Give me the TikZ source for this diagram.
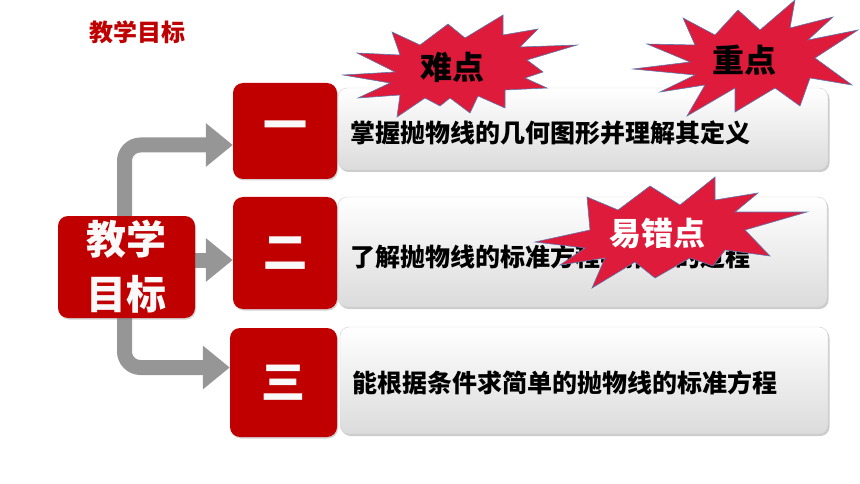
\documentclass[tikz,border=0pt]{standalone}
\usepackage{fontspec}
\setmainfont{Noto Sans CJK SC}
\usetikzlibrary{arrows.meta,shadows,backgrounds}
\definecolor{deepred}{HTML}{C00000}
\definecolor{burst}{HTML}{DE1B3B}
\definecolor{burstline}{HTML}{5A78B0}
\definecolor{arrowgray}{HTML}{969696}

\begin{document}
\begin{tikzpicture}[x=1pt,y=-1pt,
  redbox/.style={fill=deepred, rounded corners=10pt, inner sep=0pt,
    drop shadow={opacity=0.35,shadow xshift=1pt,shadow yshift=-1.5pt},
    text=white!95!gray, font=\bfseries\fontsize{44}{44}\selectfont},
  greybox/.style={draw=gray!35, top color=white, bottom color=gray!28, rounded corners=9pt,
    drop shadow={opacity=0.4,shadow xshift=1.5pt,shadow yshift=-2pt}},
  goaltext/.style={anchor=west, inner sep=0pt, font=\bfseries\fontsize{25}{25}\selectfont},
  garrow/.style={arrowgray, line width=15pt, rounded corners=16pt,
    -{Triangle[length=27pt,width=42pt]}},
  burstfill/.style={fill=burst, draw=burstline, line width=0.6pt, line join=miter},
  burstlabel/.style={font=\bfseries\fontsize{32}{32}\selectfont}]
  \useasboundingbox (0,0) rectangle (860,484);

  \node[text=deepred, font=\bfseries\fontsize{24}{24}\selectfont] (title) at (137,32) {教学目标};

  \node[greybox, minimum width=490pt, minimum height=82pt] (g1) at (583,129) {};
  \node[greybox, minimum width=489pt, minimum height=110pt] (g2) at (582.5,252) {};
  \node[greybox, minimum width=488pt, minimum height=107pt] (g3) at (584,380.5) {};

  \node[redbox, minimum width=104pt, minimum height=96pt] (r1) at (285,131) {一};
  \node[redbox, minimum width=104pt, minimum height=112pt] (r2) at (285,253) {二};
  \node[redbox, minimum width=107pt, minimum height=109pt] (r3) at (283.5,382.5) {三};

  \node[redbox, minimum width=137pt, minimum height=102pt, align=center,
    font=\bfseries\fontsize{40}{55}\selectfont] (goal) at (126.5,267) {教学\\目标};

  \begin{scope}[on background layer]
    \coordinate (a2) at ([yshift=-7pt]r2.west);
    \draw[garrow] ([xshift=-2pt]goal.center) |- ([yshift=-14pt]r1.west);
    \draw[garrow] (goal.center |- a2) -- (a2);
    \draw[garrow] ([xshift=-2pt]goal.center) |- ([yshift=15pt]r3.west);
  \end{scope}

  \node[goaltext] (t1) at ([xshift=12pt,yshift=-4pt]g1.west) {掌握抛物线的几何图形并理解其定义};
  \node[goaltext] (t2) at ([xshift=12pt,yshift=-5pt]g2.west) {了解抛物线的标准方程与推导的过程};
  \node[goaltext] (t3) at ([xshift=12pt,yshift=-2.5pt]g3.west) {能根据条件求简单的抛物线的标准方程};

  \draw[burstfill] (343,75) -- (395,72) -- (357,53) -- (400,55) -- (392,32) -- (420,45)
    -- (448,24) -- (465,38) -- (503,15) -- (503,35) -- (538,29) -- (520,47) -- (577,45)
    -- (527,60) -- (543,72) -- (525,78) -- (547,88) -- (505,90) -- (505,108) -- (478,96)
    -- (470,113) -- (450,98) -- (440,106) -- (425,98) -- (397,117) -- (400,95) -- (358,98)
    -- (390,83) -- cycle;
  \node[burstlabel] (hard) at (452,67) {难点};

  \draw[burstfill] (633,69) -- (690,62) -- (647,44) -- (695,45) -- (683,18) -- (715,35)
    -- (738,10) -- (760,30) -- (795,0) -- (790,28) -- (833,17) -- (808,40) -- (858,30)
    -- (815,58) -- (852,85) -- (810,78) -- (800,106) -- (775,88) -- (735,112) -- (735,88)
    -- (687,116) -- (705,85) -- (660,92) -- (695,75) -- cycle;
  \node[burstlabel] (key) at (744,60) {重点};

  \draw[burstfill] (535,242) -- (590,230) -- (587,197) -- (618,210) -- (650,186) -- (680,205)
    -- (715,177) -- (715,200) -- (758,193) -- (735,212) -- (807,212) -- (745,230) -- (770,256)
    -- (725,250) -- (713,266) -- (690,258) -- (655,278) -- (635,262) -- (592,288) -- (605,258)
    -- (560,265) -- (585,248) -- cycle;
  \node[burstlabel, text=white] (trap) at (657,233) {易错点};
\end{tikzpicture}
\end{document}
